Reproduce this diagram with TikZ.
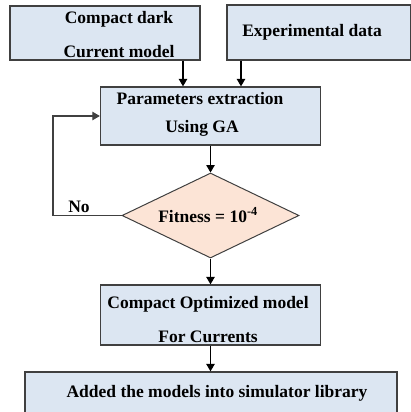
\documentclass[tikz,border=0pt]{standalone}
\usepackage{fontspec}
\setmainfont{Liberation Serif}
\usetikzlibrary{arrows.meta,shapes.geometric}
\definecolor{boxblue}{RGB}{220,230,242}
\definecolor{peach}{RGB}{252,228,214}
\definecolor{edge}{RGB}{64,64,64}
\tikzset{
  box/.style={draw=edge, line width=1.3pt, fill=boxblue, rectangle, inner sep=0pt},
  dec/.style={draw=edge, line width=1pt, fill=peach, diamond, inner sep=0pt},
  txt/.style={align=center, inner sep=0pt, font=\fontsize{17.5}{34}\selectfont\bfseries},
  arr/.style={draw=black, line width=1.1pt, -{Triangle[length=7.5pt,width=8.5pt]}},
  loop/.style={draw=edge, line width=1.1pt, -{Triangle[length=7.5pt,width=8.5pt]}}
}
\begin{document}
\begin{tikzpicture}[x=1pt,y=-1pt]
\useasboundingbox (0,0) rectangle (410,412);
% boxes
\node[box, minimum width=190pt, minimum height=54pt] (b1) at (105,33) {};
\node[box, minimum width=184pt, minimum height=55pt] (b2) at (319,32.5) {};
\node[box, minimum width=220pt, minimum height=58pt] (p) at (210.5,116) {};
\node[dec, minimum width=177pt, minimum height=85pt] (d) at (210.5,215.5) {};
\node[box, minimum width=220pt, minimum height=60pt] (b3) at (210.5,315) {};
\node[box, minimum width=372pt, minimum height=48pt] (b4) at (211,396) {};
% texts
\node[txt] (t1) at (119,34.5) {Compact dark\\Current model};
\node[txt] (t2) at (312,32) {Experimental data};
\node[txt, font=\fontsize{17.5}{28}\selectfont\bfseries] (t3) at (200,114) {Parameters extraction\\\hspace*{4pt}Using GA};
\node[txt] (t4) at (208,215) {Fitness = 10\textsuperscript{-4}};
\node[txt] (t5) at (208,320) {Compact Optimized model\\For Currents};
\node[txt] (t6) at (217,393) {Added the models into simulator library};
\node[txt] (no) at (79,207) {No};
% connectors
\draw[arr] ([xshift=78pt]b1.south) -- ([xshift=78pt]b1.south |- p.north);
\draw[arr] ([xshift=-78pt]b2.south) -- ([xshift=-78pt]b2.south |- p.north);
\draw[arr] (p.south) -- (d.north);
\draw[arr] (d.south) -- (b3.north);
\draw[arr] (b3.south) -- (b3.south |- b4.north);
\coordinate (lp) at (53,215.5);
\draw[loop] (d.west) -- (lp) |- (p.west);
\end{tikzpicture}
\end{document}
